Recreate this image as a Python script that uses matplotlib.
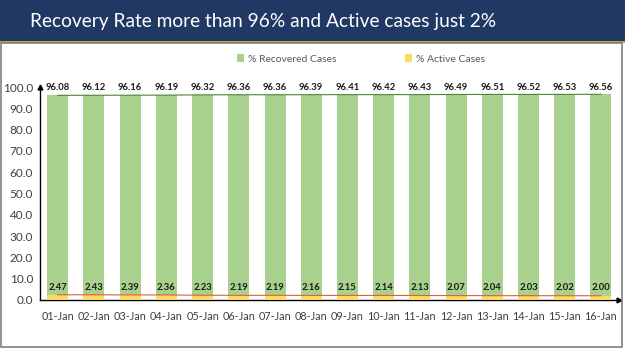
import matplotlib
matplotlib.use("Agg")
import matplotlib.pyplot as plt
from matplotlib.patches import Rectangle
import numpy as np

dates = ["01-Jan", "02-Jan", "03-Jan", "04-Jan", "05-Jan", "06-Jan", "07-Jan", "08-Jan",
         "09-Jan", "10-Jan", "11-Jan", "12-Jan", "13-Jan", "14-Jan", "15-Jan", "16-Jan"]
recovered = [96.08, 96.12, 96.16, 96.19, 96.32, 96.36, 96.36, 96.39,
             96.41, 96.42, 96.43, 96.49, 96.51, 96.52, 96.53, 96.56]
active = [2.47, 2.43, 2.39, 2.36, 2.23, 2.19, 2.19, 2.16,
          2.15, 2.14, 2.13, 2.07, 2.04, 2.03, 2.02, 2.00]
yticks = [0, 10, 20, 30, 40, 50, 60, 70, 80, 90, 100]

title = "Recovery Rate more than 96% and Active cases just 2%"

plt.rcParams['font.family'] = ['Lato', 'DejaVu Sans']

W, H = 625, 351
fig = plt.figure(figsize=(W / 100, H / 100), dpi=100)
fig.patch.set_facecolor("white")

# Title banner
fig.patches.append(Rectangle((0, (H - 41) / H), 1, 41 / H, transform=fig.transFigure,
                             facecolor="#1f3864", edgecolor="none", zorder=0))
fig.patches.append(Rectangle((0, (H - 43) / H), 1, 2 / H, transform=fig.transFigure,
                             facecolor="#c99a4a", edgecolor="none", zorder=0))
# Frame below the banner
fig.patches.append(Rectangle((1.5 / W, 4 / H), (W - 4.5) / W, (H - 47) / H,
                             transform=fig.transFigure, facecolor="none",
                             edgecolor="#7f7f7f", linewidth=1.2, zorder=0))
fig.text(30 / W, (H - 21) / H, title, color="white", fontsize=13.8,
         ha="left", va="center")

ax = fig.add_axes([40 / W, (H - 300) / H, (619 - 40) / W, (300 - 87) / H])
x = np.arange(len(dates))
bw = 0.58
ax.bar(x, recovered, width=bw, color="#a9d18e", zorder=2, label="% Recovered Cases")
ax.bar(x, active, width=bw, color="#ffd966", zorder=3, label="% Active Cases")
ax.plot(x, recovered, color="#548235", linewidth=0.8, zorder=4)
ax.plot(x, active, color="#e0603a", linewidth=0.8, zorder=4)

for xi, r, a in zip(x, recovered, active):
    ax.text(xi, 100, f"{r:.2f}", ha="center", va="center", fontsize=6.8,
            fontweight="bold", color="#1a1a1a", zorder=5, clip_on=False)
    ax.text(xi, 6.0, f"{a:.2f}", ha="center", va="center", fontsize=6.8,
            fontweight="bold", color="#1a1a1a", zorder=5)

ax.set_xlim(-0.49, 15.5)
ax.set_ylim(0, 100)
ax.set_xticks(x)
ax.set_xticklabels(dates)
ax.set_yticks(yticks)
ax.set_yticklabels([f"{v:.1f}" for v in yticks])
ax.tick_params(axis="x", length=0, labelsize=7.8, labelcolor="#404040", pad=8)
ax.tick_params(axis="y", length=0, labelsize=8.5, labelcolor="#404040", pad=5)
for s in ["top", "right"]:
    ax.spines[s].set_visible(False)
for s in ["left", "bottom"]:
    ax.spines[s].set_color("black")
    ax.spines[s].set_linewidth(1.0)
ax.set_facecolor("none")
# arrow heads
ax.plot([1], [0], marker=">", color="black", markersize=3.5, transform=ax.transAxes, clip_on=False)
ax.plot([0], [1], marker="^", color="black", markersize=3.5, transform=ax.transAxes, clip_on=False)

leg = ax.legend(loc="center", bbox_to_anchor=(361 / W, (H - 59) / H), bbox_transform=fig.transFigure,
                ncol=2, frameon=False, fontsize=7.5, handlelength=0.7, handleheight=0.7,
                columnspacing=6.5, handletextpad=0.4)
for t in leg.get_texts():
    t.set_color("#595959")

fig.savefig("out.png", dpi=100)
